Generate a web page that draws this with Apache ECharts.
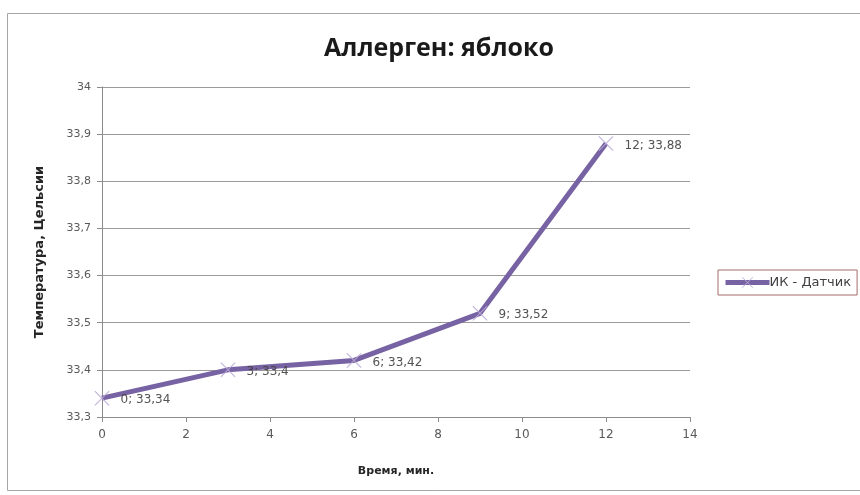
<!DOCTYPE html>
<html>
<head>
<meta charset="utf-8">
<script src="https://cdn.jsdelivr.net/npm/echarts@6/dist/echarts.min.js"></script>
<style>
  html, body { margin: 0; padding: 0; background: #fff; }
  #chart { width: 860px; height: 495px; }
</style>
</head>
<body>
<div id="chart"></div>
<script>
// Time points (minutes) and measured temperature (°C)
const times = [0, 3, 6, 9, 12];
const temps = [33.34, 33.4, 33.42, 33.52, 33.88];
const xTicks = [0, 2, 4, 6, 8, 10, 12, 14];
const yTicks = [33.3, 33.4, 33.5, 33.6, 33.7, 33.8, 33.9, 34];

const seriesName = 'ИК - Датчик';
const titleText = 'Аллерген: яблоко';

// decimal comma formatting
const fmt = v => String(Number(v.toFixed(2))).replace('.', ',');

// X-shaped marker as a filled outline
const crossPath = 'path://M0,1L1,0L10,9L19,0L20,1L11,10L20,19L19,20L10,11L1,20L0,19L9,10Z';

const chart = echarts.init(document.getElementById('chart'), null, { renderer: 'canvas' });

chart.setOption({
  animation: false,
  backgroundColor: '#ffffff',
  graphic: [{
    type: 'rect',
    shape: { x: 7.5, y: 13.5, width: 870, height: 477 },
    style: { fill: 'none', stroke: '#a6a6a6', lineWidth: 1 },
    silent: true,
    z: -10
  }],
  title: {
    text: titleText,
    left: 434,
    textAlign: 'center',
    top: 31,
    textStyle: { fontFamily: 'Open Sans', fontWeight: 'bold', fontSize: 25, color: '#1a1a1a' }
  },
  legend: {
    data: [seriesName],
    left: 718,
    top: 270,
    orient: 'vertical',
    padding: [6, 6, 6, 5],
    borderColor: '#a86b6b',
    borderWidth: 1,
    itemWidth: 44,
    itemHeight: 14,
    itemGap: 0,
    lineStyle: { width: 5 },
    textStyle: { fontFamily: 'DejaVu Sans', fontSize: 13, color: '#404040', padding: [0, 0, 0, -5] }
  },
  grid: { left: 102, right: 170, top: 87, bottom: 78 },
  xAxis: {
    type: 'value',
    min: xTicks[0],
    max: xTicks[xTicks.length - 1],
    interval: 2,
    name: 'Время, мин.',
    nameLocation: 'middle',
    nameGap: 49,
    nameTextStyle: { fontFamily: 'DejaVu Sans', fontWeight: 'bold', fontSize: 11, color: '#262626' },
    axisLine: { show: true, lineStyle: { color: '#8c8c8c', width: 1 } },
    axisTick: { show: true, length: 5, lineStyle: { color: '#8c8c8c' } },
    axisLabel: { fontFamily: 'DejaVu Sans', fontSize: 12, color: '#595959', margin: 12 },
    splitLine: { show: false }
  },
  yAxis: {
    type: 'value',
    min: yTicks[0],
    max: yTicks[yTicks.length - 1],
    interval: 0.1,
    name: 'Температура, Цельсии',
    nameLocation: 'middle',
    nameRotate: 90,
    nameGap: 56,
    nameTextStyle: { fontFamily: 'DejaVu Sans', fontWeight: 'bold', fontSize: 13, color: '#262626' },
    axisLine: { show: true, lineStyle: { color: '#8c8c8c', width: 1 } },
    axisTick: { show: true, length: 5, lineStyle: { color: '#8c8c8c' } },
    axisLabel: { fontFamily: 'DejaVu Sans', fontSize: 11, color: '#595959', margin: 11, formatter: v => fmt(v) },
    splitLine: { show: true, lineStyle: { color: '#9a9a9a', width: 1 } }
  },
  series: [{
    name: seriesName,
    type: 'line',
    data: times.map((t, i) => [t, temps[i]]),
    lineStyle: { color: '#7763a3', width: 5 },
    itemStyle: { color: '#b9a9d6', opacity: 0.9 },
    symbol: crossPath,
    symbolSize: 15,
    label: {
      show: true,
      position: 'right',
      distance: 11,
      offset: [0, 2],
      fontFamily: 'DejaVu Sans',
      fontSize: 12,
      color: '#404040',
      formatter: p => p.value[0] + '; ' + fmt(p.value[1])
    },
    z: 3
  }]
});
</script>
</body>
</html>
